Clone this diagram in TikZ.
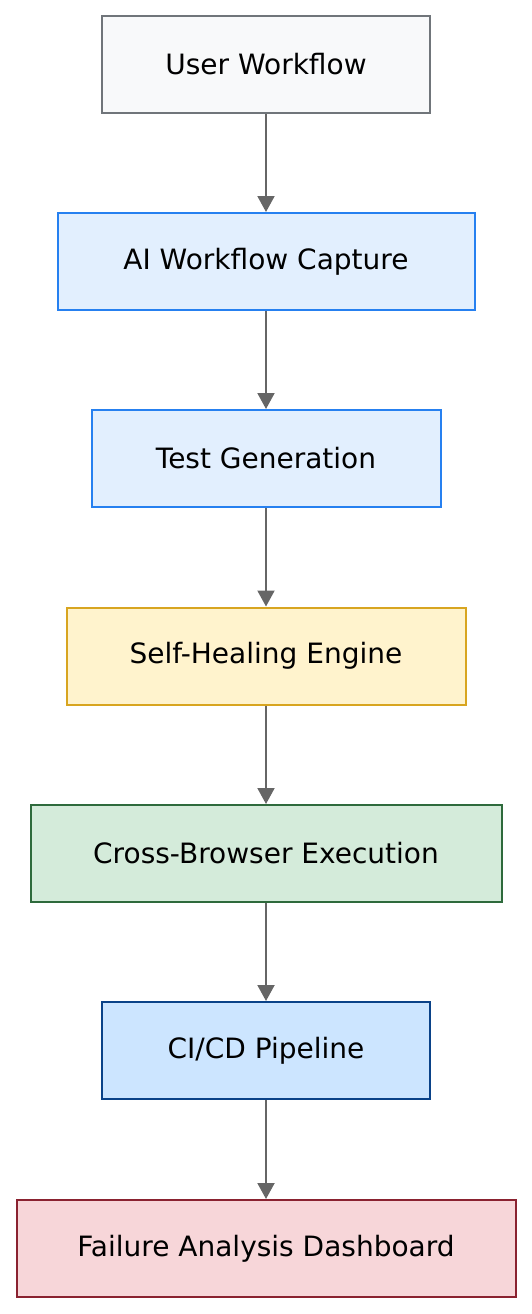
\documentclass[tikz,border=0pt]{standalone}
\usepackage{fontspec}
\setmainfont{DejaVu Sans}
\usepackage{tikz}
\usetikzlibrary{arrows.meta}

\definecolor{grayfill}{HTML}{F8F9FA}
\definecolor{graydraw}{HTML}{70757A}
\definecolor{bluefill}{HTML}{E2EFFE}
\definecolor{bluedraw}{HTML}{2680F0}
\definecolor{yellowfill}{HTML}{FFF3CD}
\definecolor{yellowdraw}{HTML}{D8A520}
\definecolor{greenfill}{HTML}{D4EBDA}
\definecolor{greendraw}{HTML}{2E6A3C}
\definecolor{cifill}{HTML}{CCE5FF}
\definecolor{cidraw}{HTML}{0A4288}
\definecolor{redfill}{HTML}{F7D6D9}
\definecolor{reddraw}{HTML}{8A2230}
\definecolor{arrowgray}{HTML}{666666}

\tikzset{
  box/.style={draw, line width=2pt, minimum height=97pt, inner sep=0pt,
    font=\fontsize{28}{33}\selectfont},
  flow/.style={draw=arrowgray, line width=2pt,
    -{Triangle[length=16pt,width=17pt]}}
}

\begin{document}
\begin{tikzpicture}[x=1pt,y=-1pt]
   \useasboundingbox (0,0) rectangle (532,1314);
   \draw (266,64.5) node[box, fill=grayfill, draw=graydraw, minimum width=328pt] (user) {User Workflow};
   \draw (266,261.5) node[box, fill=bluefill, draw=bluedraw, minimum width=417pt] (capture) {AI Workflow Capture};
   \draw (266,458.5) node[box, fill=bluefill, draw=bluedraw, minimum width=349pt] (testgen) {Test Generation};
   \draw (266,656) node[box, fill=yellowfill, draw=yellowdraw, minimum width=399pt] (healing) {Self-Healing Engine};
   \draw (266,853.5) node[box, fill=greenfill, draw=greendraw, minimum width=471pt] (browser) {Cross-Browser Execution};
   \draw (266,1050.5) node[box, fill=cifill, draw=cidraw, minimum width=328pt] (cicd) {CI/CD Pipeline};
   \draw (266,1248.5) node[box, fill=redfill, draw=reddraw, minimum width=499pt] (dashboard) {Failure Analysis Dashboard};

   \path (user) edge[flow] (capture);
   \path (capture) edge[flow] (testgen);
   \path (testgen) edge[flow] (healing);
   \path (healing) edge[flow] (browser);
   \path (browser) edge[flow] (cicd);
   \path (cicd) edge[flow] (dashboard);
\end{tikzpicture}
\end{document}
